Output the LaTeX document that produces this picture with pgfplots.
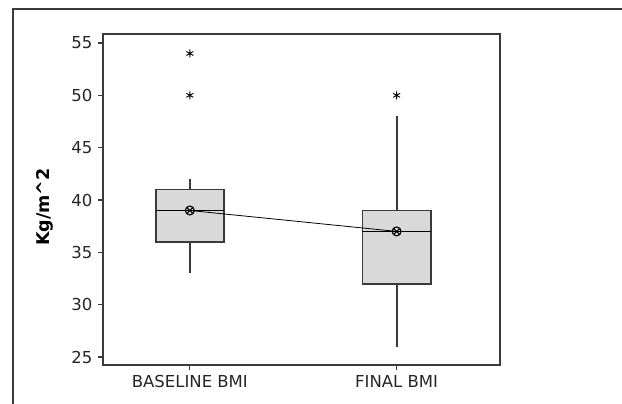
\documentclass[border=0pt]{standalone}
\usepackage{fontspec}
\setmainfont{DejaVu Sans}
\usepackage{pgfplots}
\pgfplotsset{compat=1.18}
\usepgfplotslibrary{statistics}
\definecolor{framegray}{HTML}{3A3A3A}
\definecolor{boxfill}{HTML}{D9D9D9}
\begin{document}
\fontsize{16}{19}\selectfont
\begin{tikzpicture}
\useasboundingbox (-103pt,-39pt) rectangle (519pt,365pt);
\draw[framegray, line width=1.2pt] (-90pt,-45pt) -- (-90pt,356pt) -- (530pt,356pt);
\begin{axis}[
  at={(0,0)}, anchor=south west, scale only axis,
  width=397pt, height=331pt,
  xmin=-0.42, xmax=1.5, ymin=24.24, ymax=55.86,
  xtick={0,1}, xticklabels={BASELINE BMI, FINAL BMI},
  ytick={25,30,35,40,45,50,55},
  tick align=outside, major tick length=5pt, tick pos=left,
  axis line style={framegray, line width=1.5pt},
  tick style={framegray, line width=1.1pt},
  /pgf/number format/assume math mode=true,
  ticklabel style={font=\fontsize{16.5}{19}\selectfont, text=black!85},
  ylabel={\bfseries Kg/m\textasciicircum 2},
  ylabel style={at={(axis description cs:0,0.477)}, anchor=center, yshift=58pt, font=\fontsize{17.5}{20}\selectfont},
]
\addplot+[boxplot prepared={draw position=0, median=39, upper quartile=41,
  lower quartile=36, upper whisker=42, lower whisker=33, box extend=0.33, whisker extend=0},
  boxplot/draw direction=y,
  boxplot/every median/.style={black, line width=1pt},
  boxplot/every whisker/.style={framegray, line width=1.8pt},
  boxplot/every box/.style={draw=framegray, fill=boxfill, line width=1.7pt},
  draw=framegray, fill=boxfill, line width=1.7pt, solid,
  mark=asterisk, mark options={black, mark size=4pt, line width=0.9pt}]
  table[row sep=\\, y index=0] {54\\50\\};
\addplot+[boxplot prepared={draw position=1, median=37, upper quartile=39,
  lower quartile=32, upper whisker=48, lower whisker=26, box extend=0.33, whisker extend=0},
  boxplot/draw direction=y,
  boxplot/every median/.style={black, line width=1pt},
  boxplot/every whisker/.style={framegray, line width=1.8pt},
  boxplot/every box/.style={draw=framegray, fill=boxfill, line width=1.7pt},
  draw=framegray, fill=boxfill, line width=1.7pt, solid,
  mark=asterisk, mark options={black, mark size=4pt, line width=0.9pt}]
  table[row sep=\\, y index=0] {50\\};
\addplot[black, line width=0.8pt, mark=otimes, mark options={mark size=4.5pt, line width=1.1pt}]
  coordinates {(0,39) (1,37)};
\end{axis}
\end{tikzpicture}
\end{document}
